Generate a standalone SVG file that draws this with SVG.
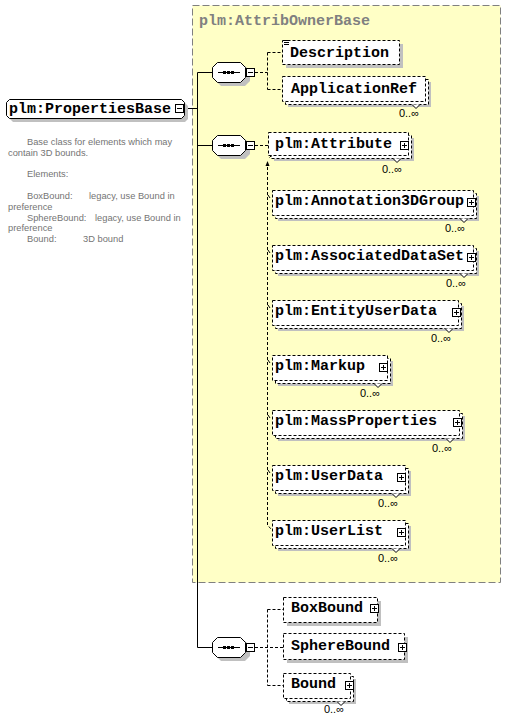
<svg xmlns="http://www.w3.org/2000/svg" xmlns:xlink="http://www.w3.org/1999/xlink" width="507" height="720" viewBox="0 0 507 720">
<style>
.nm{font-family:"Liberation Mono","DejaVu Sans Mono",monospace;font-weight:bold;font-size:15px;fill:#000}
.ttl{font-family:"Liberation Mono","DejaVu Sans Mono",monospace;font-weight:bold;font-size:15px;fill:#808080}
.ds{font-family:"Liberation Sans",Arial,sans-serif;font-size:9.3px;fill:#747474}
.cd{font-family:"Liberation Sans",Arial,sans-serif;font-size:11px;fill:#000;text-anchor:end}
.sh{fill:#c0c0c0}
.bx{fill:#fff;stroke:#000;stroke-dasharray:3 2}
.nt{fill:#fff;stroke:#000}
.ln{fill:none;stroke:#000}
.dl{fill:none;stroke:#000;stroke-dasharray:3 2}
</style>
<defs>
<g id="plus"><rect x="0.5" y="0.5" width="8" height="8" fill="#fff" stroke="#000"/><path d="M2 4.5H7M4.5 2V7" stroke="#000"/></g>
<g id="minus"><rect x="0.5" y="0.5" width="8" height="8" fill="#fff" stroke="#000"/><path d="M2 4.5H7" stroke="#000"/></g>
<g id="seq">
<path class="sh" d="M9 4H33L38 9V19L33 24H9L4 19V9Z"/>
<path fill="#fff" stroke="#000" d="M5.5 0.5H28.5L33.5 5.5V15.5L28.5 20.5H5.5L0.5 15.5V5.5Z"/>
<path stroke="#000" d="M6 10.5H28"/>
<rect x="11" y="9" width="3" height="3"/><rect x="15" y="9" width="3" height="3"/><rect x="19" y="9" width="3" height="3"/>
<use xlink:href="#minus" x="34" y="6"/>
</g>
</defs>

<g id="group-AttribOwnerBase">
<rect x="192.5" y="5.5" width="308" height="577" fill="#ffffc6" stroke="#808080" stroke-dasharray="7 3"/>
<text class="ttl" x="199" y="25">plm:AttribOwnerBase</text>
</g>

<g id="connectors">
<path class="ln" d="M184 108.5H197.5M197.5 72.5V647.5M197.5 72.5H212M197.5 145.5H212M197.5 647.5H212"/>
<path class="dl" d="M255 72.5H267.5M267.5 52.5V89.5M267.5 52.5H282M267.5 89.5H282"/>
<path class="dl" d="M255 145.5H268"/>
<path class="dl" d="M267.5 167V525L271 529"/>
<polygon points="265.5,166 267.5,161 269.5,166" fill="#000"/>
<path class="ln" d="M269.5 157.5L273 154"/>
<polygon points="271,152 275,151 274,155" fill="#000"/>
<path class="ln" d="M268 195L270 198M268 250L270 253M268 305L270 308M268 360L270 363M268 415L270 418M268 470L270 473"/>
<path class="dl" d="M255 647.5H283M267.5 609.5V685.5M267.5 609.5H283M267.5 685.5H283"/>
</g>

<g id="seq1"><use xlink:href="#seq" x="212" y="62"/></g>
<g id="seq2"><use xlink:href="#seq" x="212" y="135"/></g>
<g id="seq3"><use xlink:href="#seq" x="212" y="637"/></g>

<g id="node-PropertiesBase">
<path class="sh" d="M13 103H185L188 106V119L185 122H13L10 119V106Z"/>
<path fill="#fff" stroke="#000" d="M9.5 99.5H181.5L184.5 102.5V115.5L181.5 118.5H9.5L6.5 115.5V102.5Z"/>
<text class="nm" x="9" y="113">plm:PropertiesBase</text>
<use xlink:href="#minus" x="175" y="104"/>
</g>

<g id="annotation">
<text class="ds" x="27" y="145">Base class for elements which may</text>
<text class="ds" x="8" y="155.8">contain 3D bounds.</text>
<text class="ds" x="27" y="177.4">Elements:</text>
<text class="ds" y="199"><tspan x="27">BoxBound:</tspan><tspan x="89">legacy, use Bound in</tspan></text>
<text class="ds" x="8" y="209.8">preference</text>
<text class="ds" y="220.6"><tspan x="27">SphereBound:</tspan><tspan x="95">legacy, use Bound in</tspan></text>
<text class="ds" x="8" y="231.4">preference</text>
<text class="ds" y="242.2"><tspan x="27">Bound:</tspan><tspan x="83">3D bound</tspan></text>
</g>

<g id="node-Description">
<rect class="sh" x="286" y="44" width="117" height="24"/>
<rect class="bx" x="282.5" y="40.5" width="117" height="24"/>
<path class="ln" d="M284 40.5H289M284 42.5H289M284 44.5H289"/>
<text class="nm" x="290" y="57">Description</text>
</g>

<g id="node-ApplicationRef">
<rect class="sh" x="288" y="82" width="143" height="25"/>
<rect class="bx" x="285.5" y="79.5" width="143" height="25"/>
<rect class="bx" x="282.5" y="76.5" width="143" height="25"/>
<path class="nt" d="M412 104.5l4 4l4 -4"/>
<text class="nm" x="291" y="93">ApplicationRef</text>
<text class="cd" x="419" y="117">0..∞</text>
</g>

<g id="node-Attribute">
<rect class="sh" x="274" y="138" width="140" height="23"/>
<rect class="bx" x="271.5" y="135.5" width="140" height="23"/>
<rect class="bx" x="268.5" y="132.5" width="140" height="23"/>
<path class="nt" d="M393 158.5l4 4l4 -4"/>
<text class="nm" x="275" y="148">plm:Attribute</text>
<use xlink:href="#plus" x="400" y="141"/>
<text class="cd" x="402" y="173">0..∞</text>
</g>

<g id="node-Annotation3DGroup">
<rect class="sh" x="278" y="196" width="201" height="25"/>
<rect class="bx" x="275.5" y="193.5" width="201" height="25"/>
<rect class="bx" x="272.5" y="190.5" width="201" height="25"/>
<path class="nt" d="M460 218.5l4 4l4 -4"/>
<text class="nm" x="275" y="205">plm:Annotation3DGroup</text>
<use xlink:href="#plus" x="467" y="198"/>
<text class="cd" x="465" y="232">0..∞</text>
</g>

<g id="node-AssociatedDataSet">
<rect class="sh" x="278" y="251" width="201" height="25"/>
<rect class="bx" x="275.5" y="248.5" width="201" height="25"/>
<rect class="bx" x="272.5" y="245.5" width="201" height="25"/>
<path class="nt" d="M460 273.5l4 4l4 -4"/>
<text class="nm" x="275" y="260">plm:AssociatedDataSet</text>
<use xlink:href="#plus" x="467" y="253"/>
<text class="cd" x="466" y="287">0..∞</text>
</g>

<g id="node-EntityUserData">
<rect class="sh" x="278" y="306" width="186" height="25"/>
<rect class="bx" x="275.5" y="303.5" width="186" height="25"/>
<rect class="bx" x="272.5" y="300.5" width="186" height="25"/>
<path class="nt" d="M445 328.5l4 4l4 -4"/>
<text class="nm" x="275" y="315">plm:EntityUserData</text>
<use xlink:href="#plus" x="452" y="308"/>
<text class="cd" x="451" y="342">0..∞</text>
</g>

<g id="node-Markup">
<rect class="sh" x="278" y="361" width="115" height="25"/>
<rect class="bx" x="275.5" y="358.5" width="115" height="25"/>
<rect class="bx" x="272.5" y="355.5" width="115" height="25"/>
<path class="nt" d="M374 383.5l4 4l4 -4"/>
<text class="nm" x="275" y="370">plm:Markup</text>
<use xlink:href="#plus" x="379" y="363"/>
<text class="cd" x="380" y="397">0..∞</text>
</g>

<g id="node-MassProperties">
<rect class="sh" x="278" y="416" width="187" height="25"/>
<rect class="bx" x="275.5" y="413.5" width="187" height="25"/>
<rect class="bx" x="272.5" y="410.5" width="187" height="25"/>
<path class="nt" d="M446 438.5l4 4l4 -4"/>
<text class="nm" x="275" y="425">plm:MassProperties</text>
<use xlink:href="#plus" x="453" y="418"/>
<text class="cd" x="452" y="452">0..∞</text>
</g>

<g id="node-UserData">
<rect class="sh" x="278" y="471" width="133" height="25"/>
<rect class="bx" x="275.5" y="468.5" width="133" height="25"/>
<rect class="bx" x="272.5" y="465.5" width="133" height="25"/>
<path class="nt" d="M392 493.5l4 4l4 -4"/>
<text class="nm" x="275" y="480">plm:UserData</text>
<use xlink:href="#plus" x="397" y="473"/>
<text class="cd" x="398" y="507">0..∞</text>
</g>

<g id="node-UserList">
<rect class="sh" x="278" y="526" width="133" height="25"/>
<rect class="bx" x="275.5" y="523.5" width="133" height="25"/>
<rect class="bx" x="272.5" y="520.5" width="133" height="25"/>
<path class="nt" d="M392 548.5l4 4l4 -4"/>
<text class="nm" x="275" y="535">plm:UserList</text>
<use xlink:href="#plus" x="397" y="528"/>
<text class="cd" x="398" y="562">0..∞</text>
</g>

<g id="node-BoxBound">
<rect class="sh" x="287" y="601" width="94" height="25"/>
<rect class="bx" x="283.5" y="597.5" width="94" height="25"/>
<text class="nm" x="291" y="612">BoxBound</text>
<use xlink:href="#plus" x="370" y="604"/>
</g>

<g id="node-SphereBound">
<rect class="sh" x="287" y="637" width="121" height="26"/>
<rect class="bx" x="283.5" y="633.5" width="121" height="26"/>
<text class="nm" x="291" y="650">SphereBound</text>
<use xlink:href="#plus" x="398" y="643"/>
</g>

<g id="node-Bound">
<rect class="sh" x="289" y="679" width="67" height="25"/>
<rect class="bx" x="286.5" y="676.5" width="67" height="25"/>
<rect class="bx" x="283.5" y="673.5" width="67" height="25"/>
<path class="nt" d="M337 701.5l4 4l4 -4"/>
<text class="nm" x="291" y="688">Bound</text>
<use xlink:href="#plus" x="345" y="681"/>
<text class="cd" x="344" y="713">0..∞</text>
</g>
</svg>
